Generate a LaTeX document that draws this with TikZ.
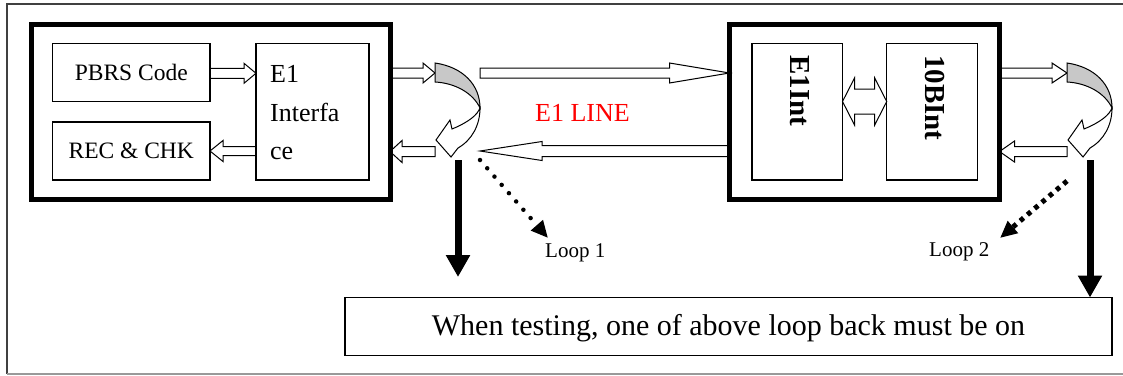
\documentclass[tikz,border=0pt]{standalone}
\usepackage{fontspec}
\setmainfont{Liberation Serif}
\usetikzlibrary{arrows.meta,calc,backgrounds}
\definecolor{shade}{RGB}{200,200,200}
\tikzset{
  box/.style n args={2}{draw, line width=1.3pt, minimum width=#1, minimum height=#2, inner sep=0pt, outer sep=0pt},
  bigbox/.style n args={2}{draw, line width=5pt, minimum width=#1, minimum height=#2, inner sep=0pt, outer sep=0pt},
  boxtext/.style={font=\fontsize{23.5}{27}\selectfont},
  harrow/.style n args={3}{draw=black, fill=white, line width=1pt, line join=miter,
    to path={let \p1=(\tikztostart), \p2=(\tikztotarget), \n1={ifthenelse(\x2>\x1,1,-1)} in
      ({\x1},{\y1+#1}) -- ({\x2-(\n1)*#3},{\y1+#1}) -- ({\x2-(\n1)*#3},{\y1+#2}) -- ({\x2},{\y1})
      -- ({\x2-(\n1)*#3},{\y1-#2}) -- ({\x2-(\n1)*#3},{\y1-#1}) -- ({\x1},{\y1-#1}) -- cycle}},
  hdouble/.style n args={3}{draw=black, fill=white, line width=1pt, line join=miter,
    to path={let \p1=(\tikztostart), \p2=(\tikztotarget) in
      ({\x1},{\y1}) -- ({\x1+#3},{\y1+#2}) -- ({\x1+#3},{\y1+#1}) -- ({\x2-#3},{\y1+#1}) -- ({\x2-#3},{\y1+#2})
      -- ({\x2},{\y1}) -- ({\x2-#3},{\y1-#2}) -- ({\x2-#3},{\y1-#1}) -- ({\x1+#3},{\y1-#1}) -- ({\x1+#3},{\y1-#2}) -- cycle}},
  thickarrow/.style={line width=7pt, -{Triangle[length=22pt,width=23pt]}},
  dotsround/.style={line width=4.5pt, line cap=round, dash pattern=on 0pt off 11pt, -{Triangle[length=17pt,width=15pt]}},
  dotssquare/.style={line width=5pt, dash pattern=on 4.5pt off 5pt, -{Triangle[length=17pt,width=15pt]}},
  looplabel/.style={anchor=base west, inner sep=0pt, font=\fontsize{21}{25}\selectfont},
  loopback/.pic={
    \draw[line width=1pt, fill=white, line join=miter]
      (1,77) -- (15,57) -- (17,66) .. controls (27,62) and (40,55) .. (44,47) -- (45,45)
      .. controls (45,62) and (37,77) .. (23,85) -- (16,94) -- cycle;
    \draw[line width=1pt, fill=shade]
      (0,0) .. controls (28,4) and (45,22) .. (45,45) .. controls (38,30) and (20,20) .. (0,19) -- cycle;
    \coordinate (-in) at (0,10);
    \coordinate (-out) at (0,88.5);
    \coordinate (-line) at (45,10);
    \coordinate (-back) at (45,88);
    \coordinate (-down) at (23,97);
  }
}
\begin{document}
\begin{tikzpicture}[x=1pt,y=-1pt]
\useasboundingbox (0,0) rectangle (1123,375);
% outer frame
\draw[line width=1.5pt, draw=black!75] (1123,4) -- (7,4) -- (7,374);
\draw[line width=1.3pt, draw=black!40] (7,374) -- (1123,374);

% boxes
\node[bigbox={359pt}{174.5pt}] (lbox) at (210.5,111.75) {};
\node[bigbox={270pt}{174.5pt}] (rbox) at (864.5,111.75) {};
\node[box={157.5pt}{58pt}, boxtext] (pbrs) at (131.25,72.5) {PBRS Code};
\node[box={157.5pt}{58pt}, boxtext] (rec) at (131.25,151) {REC \& CHK};
\node[box={113pt}{136.5pt}] (e1if) at (312.5,111.75) {};
\node[anchor=north west, align=left, inner sep=0pt, font=\fontsize{26}{38.5}\selectfont] (e1txt) at (270,65.4) {E1\\Interfa\\ce};
\node[box={90.5pt}{136.5pt}] (e1int) at (797.25,111.75) {};
\node[box={90.8pt}{136.5pt}] (tenb) at (932.1,111.75) {};
\node[rotate=-90, anchor=base west, inner sep=0pt, font=\bfseries\fontsize{29}{34}\selectfont] (e1intl) at (790,55) {E1Int};
\node[rotate=-90, anchor=base west, inner sep=0pt, font=\bfseries\fontsize{29}{34}\selectfont] (tenbl) at (925,55) {10BInt};
\node[box={767pt}{58pt}, draw, line width=1.5pt] (note) at (728.5,326.5) {};
\node[anchor=base, inner sep=0pt, font=\fontsize{30}{36}\selectfont] (notetxt) at (728.5,335) {When testing, one of above loop back must be on};
\node[anchor=base, inner sep=0pt, text=red, font=\fontsize{26}{30}\selectfont] (e1line) at (582.5,121) {E1 LINE};
\node[looplabel] (loop1) at (545,257) {Loop 1};
\node[looplabel] (loop2) at (929,256) {Loop 2};

% loop back symbols
\pic (lp1) at (435,63) {loopback};
\pic (lp2) at (1067,63) {loopback};

\begin{scope}[on background layer]
  % hollow arrows
  \draw[harrow={5pt}{10pt}{12pt}] ($(pbrs.east)+(0,0.8)$) to ($(pbrs.east -| e1if.west)+(0,0.8)$);
  \draw[harrow={4.5pt}{10.5pt}{13pt}] (rec.east -| e1if.west) to (rec.east);
  \draw[harrow={5pt}{10pt}{12pt}] (lbox.east |- lp1-in) to (lp1-in);
  \draw[harrow={5pt}{11pt}{12pt}] (lp1-out) to (lbox.east |- lp1-out);
  \draw[harrow={5pt}{10pt}{60pt}] (lp1-line) to (rbox.west |- lp1-line);
  \draw[harrow={5.5pt}{9.5pt}{62pt}] (rbox.west |- lp1-back) to (lp1-back);
  \draw[harrow={5pt}{10pt}{15pt}] (rbox.east |- lp2-in) to (lp2-in);
  \draw[harrow={5pt}{10.5pt}{15pt}] (lp2-out) to (rbox.east |- lp2-out);
  \draw[hdouble={12.5pt}{23.5pt}{12pt}] ($(e1int.east)+(0,-10.25)$) to ($(tenb.west)+(0,-10.25)$);
\end{scope}

% thick down arrows
\coordinate (d1e) at (458,277);
\draw[thickarrow] (lp1-down) -- (d1e);
\draw[thickarrow] (lp2-down) -- (lp2-down |- note.north);

% dotted loop arrows
\coordinate (l1s) at (480,160);
\coordinate (l1e) at (548,238);
\draw[dotsround] (l1s) -- (l1e);
\coordinate (l2s) at (1067,181);
\coordinate (l2e) at (1000,238);
\draw[dotssquare] (l2s) -- (l2e);
\end{tikzpicture}
\end{document}
